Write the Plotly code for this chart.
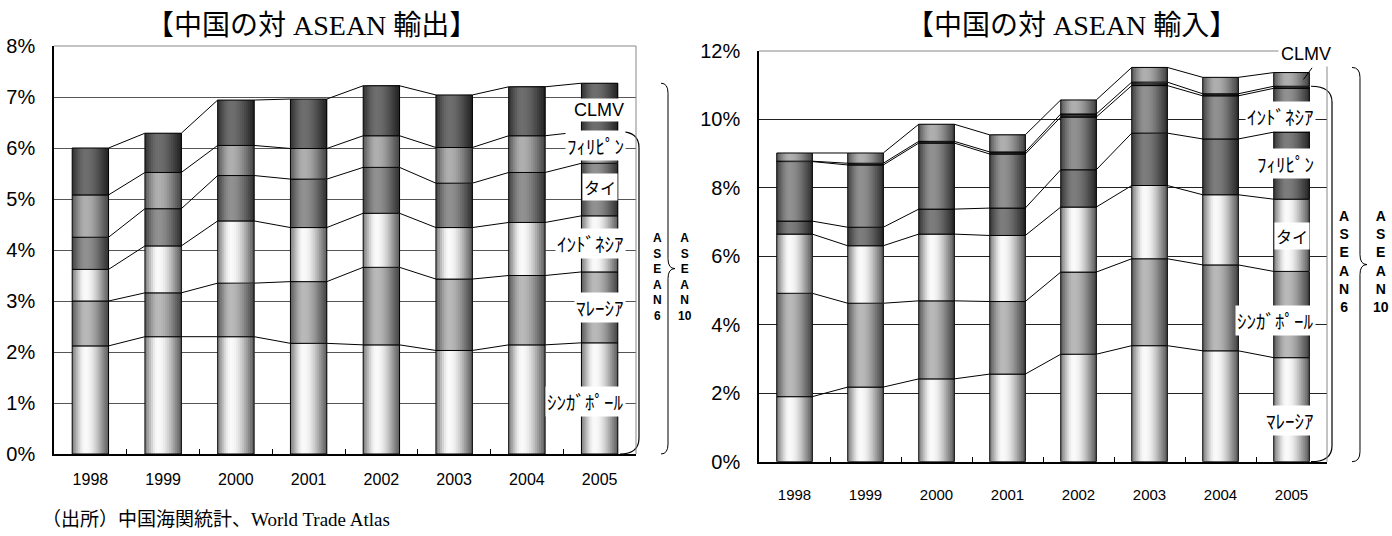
import math
import plotly.graph_objects as go

FW, FH = 1392, 536

years = ["1998", "1999", "2000", "2001", "2002", "2003", "2004", "2005"]

# China's exports to ASEAN: share of China's total exports (%)
exp_singapore = [2.12, 2.30, 2.30, 2.17, 2.14, 2.03, 2.14, 2.18]
exp_malaysia = [0.88, 0.86, 1.05, 1.21, 1.52, 1.40, 1.36, 1.39]
exp_indonesia = [0.62, 0.92, 1.22, 1.06, 1.06, 1.01, 1.04, 1.10]
exp_thailand = [0.63, 0.73, 0.89, 0.95, 0.90, 0.87, 0.98, 1.03]
exp_philippines = [0.83, 0.71, 0.59, 0.60, 0.62, 0.70, 0.72, 0.62]
exp_clmv = [0.92, 0.77, 0.89, 0.97, 0.98, 1.03, 0.96, 0.95]

# China's imports from ASEAN: share of China's total imports (%)
imp_malaysia = [1.90, 2.18, 2.42, 2.56, 3.14, 3.39, 3.24, 3.04]
imp_singapore = [3.02, 2.45, 2.28, 2.12, 2.40, 2.54, 2.51, 2.52]
imp_thailand = [1.73, 1.68, 1.95, 1.93, 1.90, 2.14, 2.05, 2.11]
imp_philippines = [0.38, 0.54, 0.73, 0.80, 1.09, 1.53, 1.63, 1.96]
imp_indonesia = [1.74, 1.82, 1.93, 1.58, 1.54, 1.39, 1.26, 1.28]
imp_brunei = [0.01, 0.05, 0.05, 0.06, 0.09, 0.10, 0.06, 0.06]
imp_clmv = [0.24, 0.30, 0.50, 0.50, 0.41, 0.43, 0.48, 0.40]

# stacking order (bottom -> top): label text, highlight / edge grey, label alignment, label nudge
left_series = [
    ("ｼﾝｶﾞﾎﾟｰﾙ", exp_singapore, 250, 95, "right", -3),
    ("ﾏﾚｰｼｱ", exp_malaysia, 185, 70, "right", 0),
    ("ｲﾝﾄﾞﾈｼｱ", exp_indonesia, 250, 95, "right", 0),
    ("タイ", exp_thailand, 145, 50, "center", 3),
    ("ﾌｨﾘﾋﾟﾝ", exp_philippines, 175, 70, "right", 2),
    ("CLMV", exp_clmv, 110, 35, "right", -3),
]
right_series = [
    ("ﾏﾚｰｼｱ", imp_malaysia, 250, 95, "right", -11),
    ("ｼﾝｶﾞﾎﾟｰﾙ", imp_singapore, 185, 70, "right", -6),
    ("タイ", imp_thailand, 250, 95, "center", -1),
    ("ﾌｨﾘﾋﾟﾝ", imp_philippines, 125, 40, "right", 2),
    ("ｲﾝﾄﾞﾈｼｱ", imp_indonesia, 145, 50, "right", -6),
    (None, imp_brunei, 60, 20, None, 0),
    (None, imp_clmv, 175, 70, None, 0),
]

BAR_W = 0.5
N_STRIPS = 18
SANS = "Liberation Sans, Arial, sans-serif"
JP = "Noto Sans CJK JP, sans-serif"
TITLE_FONT = "Liberation Serif, Noto Sans CJK JP, serif"

# plot-area boxes in pixels: (left, right), (top, bottom)
L_X, L_Y, L_MAX = (54, 636), (46, 454), 8
R_X, R_Y, R_MAX = (759, 1327), (51, 461.7), 12


def xdom(a, b):
    return [a / FW, b / FW]


def ydom(top, bot):
    return [1 - bot / FH, 1 - top / FH]


def shade(t, hi, lo):
    # cylinder-like shading across the bar width
    peak = 0.36
    if t < peak:
        f = 0.22 + 0.78 * math.sin(math.pi / 2 * t / peak) ** 1.3
    else:
        f = math.cos(math.pi / 2 * (t - peak) / (1 - peak)) ** 1.2
    v = round(lo + (hi - lo) * f)
    return f"rgb({v},{v},{v})"


fig = go.Figure()
xs = list(range(len(years)))


def stacked(series, xa, ya):
    bases = [0.0] * len(years)
    tops_list = []
    segs = []
    for name, vals, hi, lo, _, _ in series:
        for k in range(N_STRIPS):
            fig.add_trace(go.Bar(
                x=xs, y=vals, base=list(bases),
                offset=-BAR_W / 2 + k * BAR_W / N_STRIPS,
                width=BAR_W - k * BAR_W / N_STRIPS,
                marker=dict(color=shade((k + 0.5) / N_STRIPS, hi, lo), line=dict(width=0)),
                xaxis=xa, yaxis=ya, showlegend=False, hoverinfo="skip"))
        fig.add_trace(go.Bar(
            x=xs, y=vals, base=list(bases), offset=-BAR_W / 2, width=BAR_W,
            marker=dict(color="rgba(0,0,0,0)", line=dict(color="black", width=1)),
            xaxis=xa, yaxis=ya, showlegend=False, hoverinfo="skip"))
        segs.append((list(bases), vals))
        bases = [b + v for b, v in zip(bases, vals)]
        tops_list.append(list(bases))
    # series lines joining the segment tops of neighbouring bars
    lx, ly = [], []
    for tops in tops_list:
        for i in range(len(years) - 1):
            lx += [i + BAR_W / 2, i + 1 - BAR_W / 2, None]
            ly += [tops[i], tops[i + 1], None]
    fig.add_trace(go.Scatter(x=lx, y=ly, mode="lines", line=dict(color="black", width=1),
                             xaxis=xa, yaxis=ya, showlegend=False, hoverinfo="skip"))
    return segs, bases


left_segs, left_tot = stacked(left_series, "x", "y")
right_segs, right_tot = stacked(right_series, "x2", "y2")

annotations = []
last = len(years) - 1


def seg_labels(series, segs, xa, ya, xshift):
    for (name, _, _, _, align, ys), (bases, vals) in zip(series, segs):
        if name is None:
            continue
        is_latin = name.isascii()
        annotations.append(dict(
            x=last, y=bases[last] + vals[last] / 2, xref=xa, yref=ya,
            text=name, showarrow=False, yanchor="middle",
            xanchor="right" if align == "right" else "center",
            xshift=xshift if align == "right" else 0, yshift=ys,
            bgcolor="white", borderpad=1,
            font=dict(family=SANS if is_latin else JP,
                      size=18 if is_latin else (16 if name == "タイ" else 19),
                      color="black")))


seg_labels(left_series, left_segs, "x", "y", 26)
seg_labels(right_series, right_segs, "x2", "y2", 24)


def paper_text(text, px, py, font, anchor="center", **kw):
    annotations.append(dict(x=px / FW, y=1 - py / FH, xref="paper", yref="paper",
                            xanchor=anchor, yanchor="middle", text=text,
                            showarrow=False, font=font, **kw))


# CLMV label of the import chart sits above the plot, tied to its segment by a leader line
clmv_base, clmv_vals = right_segs[-1]
paper_text("CLMV", 1306, 54, dict(family=SANS, size=18, color="black"),
           bgcolor="white", borderpad=2)

# titles
paper_text("【中国の対 ASEAN 輸出】", 311, 26, dict(family=TITLE_FONT, size=28, color="black"))
paper_text("【中国の対 ASEAN 輸入】", 1071, 26, dict(family=TITLE_FONT, size=28, color="black"))

# vertical group names
for txt, px, py, size in [("A<br>S<br>E<br>A<br>N<br>6", 657, 277, 12),
                          ("A<br>S<br>E<br>A<br>N<br>10", 685, 277, 12),
                          ("A<br>S<br>E<br>A<br>N<br>6", 1344, 261, 14),
                          ("A<br>S<br>E<br>A<br>N<br>10", 1381, 261, 14)]:
    paper_text(f"<b>{txt}</b>", px, py, dict(family=SANS, size=size, color="black"),
               align="center")

# source note
paper_text("（出所）中国海関統計、World Trade Atlas", 40, 519,
           dict(family=TITLE_FONT, size=19, color="black"), anchor="left")


def P(px, py):
    return f"{px / FW:.5f},{1 - py / FH:.5f}"


def round_bracket(x0, x1, top, bot, r):
    return (f"M{P(x0, top)} Q{P(x1, top)} {P(x1, top + r)} L{P(x1, bot - r)} "
            f"Q{P(x1, bot)} {P(x0, bot)}")


def curly_brace(x0, x1, xm, top, bot, r):
    mid = (top + bot) / 2
    return (f"M{P(x0, top)} Q{P(x1, top)} {P(x1, top + r)} L{P(x1, mid - r)} "
            f"Q{P(x1, mid)} {P(xm, mid)} Q{P(x1, mid)} {P(x1, mid + r)} "
            f"L{P(x1, bot - r)} Q{P(x1, bot)} {P(x0, bot)}")


def ly(v):
    return L_Y[1] - v / L_MAX * (L_Y[1] - L_Y[0])


def ry(v):
    return R_Y[1] - v / R_MAX * (R_Y[1] - R_Y[0])


left_asean6 = left_tot[last] - exp_clmv[last]
right_asean6 = right_tot[last] - imp_clmv[last]

shapes = [
    dict(type="path", xref="paper", yref="paper", line=dict(color="black", width=1.2),
         path=round_bracket(620, 639, ly(left_asean6), ly(0), 16)),
    dict(type="path", xref="paper", yref="paper", line=dict(color="black", width=1),
         path=curly_brace(661, 668, 675, ly(max(left_tot)), ly(0), 10)),
    dict(type="path", xref="paper", yref="paper", line=dict(color="black", width=1.2),
         path=round_bracket(1311, 1332, ry(right_asean6), ry(0), 16)),
    dict(type="path", xref="paper", yref="paper", line=dict(color="black", width=1),
         path=curly_brace(1352, 1360, 1367, ry(max(right_tot)), ry(0), 10)),
    # leader line from the CLMV segment to its label
    dict(type="line", xref="x2", yref="y2", line=dict(color="black", width=1),
         x0=last + 0.17, y0=clmv_base[last] + imp_clmv[last] / 2,
         x1=last + 0.29, y1=clmv_base[last] + imp_clmv[last] / 2 + 0.34),
]
# plot-area frame (top and right edges)
for xa, ya in [("x", "y"), ("x2", "y2")]:
    shapes.append(dict(type="line", xref=f"{xa} domain", yref=f"{ya} domain",
                       x0=0, x1=1, y0=1, y1=1, line=dict(color="#888", width=1)))
    shapes.append(dict(type="line", xref=f"{xa} domain", yref=f"{ya} domain",
                       x0=1, x1=1, y0=0, y1=1, line=dict(color="#888", width=1)))


def xaxis_cfg(dom, font_size, standoff):
    return dict(domain=dom, range=[-0.5, len(years) - 0.5], tickmode="array",
                tickvals=xs, ticktext=years, ticks="", showgrid=False, zeroline=False,
                showline=True, linecolor="black", linewidth=1.5,
                tickfont=dict(family=SANS, size=font_size, color="black"),
                ticklabelstandoff=standoff, automargin=False,
                minor=dict(tickmode="array", tickvals=[i + 0.5 for i in xs[:-1]],
                           ticks="inside", ticklen=5, tickcolor="black", tickwidth=1,
                           showgrid=False),
                fixedrange=True)


def yaxis_cfg(dom, ymax, dtick, grid):
    return dict(domain=dom, range=[0, ymax], dtick=dtick, tick0=0, ticksuffix="%",
                showgrid=True, gridcolor=grid, gridwidth=1, zeroline=False,
                showline=True, linecolor="black", linewidth=1.5, ticks="",
                tickfont=dict(family=SANS, size=20, color="black"),
                ticklabelstandoff=13, automargin=False, fixedrange=True)


fig.update_layout(
    width=FW, height=FH,
    margin=dict(l=0, r=0, t=0, b=0, pad=0, autoexpand=False),
    paper_bgcolor="white", plot_bgcolor="white",
    barmode="overlay", showlegend=False,
    xaxis=dict(xaxis_cfg(xdom(*L_X), 16, 10), anchor="y"),
    yaxis=dict(yaxis_cfg(ydom(*L_Y), L_MAX, 1, "#555"), anchor="x"),
    xaxis2=dict(xaxis_cfg(xdom(*R_X), 15, 19), anchor="y2"),
    yaxis2=dict(yaxis_cfg(ydom(*R_Y), R_MAX, 2, "#222"), anchor="x2"),
    annotations=annotations, shapes=shapes,
)

fig.write_html("out.html")
